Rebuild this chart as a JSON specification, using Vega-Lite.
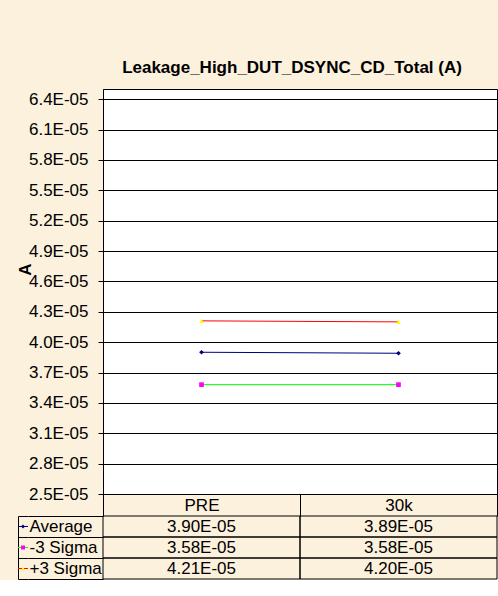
{
  "$schema": "https://vega.github.io/schema/vega-lite/v6.json",
  "background": "#FBF1DD",
  "padding": {"left": 15, "top": 58, "right": 0, "bottom": 0},
  "config": {
    "font": "Liberation Sans",
    "axis": {"labelFont": "Liberation Sans", "labelFontSize": 17, "labelColor": "black", "titleFont": "Liberation Sans"},
    "view": {"stroke": null}
  },
  "datasets": {
    "d": [
      {"stage": "PRE", "series": "Average", "value": 0.0000390},
      {"stage": "30k", "series": "Average", "value": 0.0000389},
      {"stage": "PRE", "series": "-3 Sigma", "value": 0.0000358},
      {"stage": "30k", "series": "-3 Sigma", "value": 0.0000358},
      {"stage": "PRE", "series": "+3 Sigma", "value": 0.0000421},
      {"stage": "30k", "series": "+3 Sigma", "value": 0.0000420}
    ]
  },
  "columns": 2,
  "bounds": "flush",
  "spacing": {"row": 22, "column": 0},
  "concat": [
    {
      "width": 85, "height": 405,
      "data": {"values": []},
      "mark": "point"
    },
    {
      "width": 394, "height": 405,
      "data": {"name": "d"},
      "title": {"text": "Leakage_High_DUT_DSYNC_CD_Total (A)", "fontSize": 17, "fontWeight": "bold", "color": "black", "offset": 12, "dx": -8, "font": "Liberation Sans"},
      "view": {"fill": "white", "stroke": "black"},
      "encoding": {
        "x": {
          "field": "stage", "type": "nominal", "sort": ["PRE", "30k"],
          "scale": {"type": "band", "paddingInner": 0, "paddingOuter": 0},
          "axis": {"title": null, "labelAngle": 0, "domain": false, "tickBand": "extent", "tickSize": 22, "tickColor": "black", "labelPadding": -11, "labelBaseline": "middle", "labelFontSize": 17, "labelFont": "Liberation Sans", "labelColor": "black"}
        },
        "y": {
          "field": "value", "type": "quantitative",
          "scale": {"domain": [0.000025, 0.000065], "nice": false, "zero": false},
          "axis": {
            "values": [0.000025, 0.000028, 0.000031, 0.000034, 0.000037, 0.000040, 0.000043, 0.000046, 0.000049, 0.000052, 0.000055, 0.000058, 0.000061, 0.000064],
            "labelExpr": "format(datum.value*100000, '.1f') + 'E-05'",
            "labelFontSize": 17, "labelFont": "Liberation Sans", "labelColor": "black",
            "title": "A", "titleFontSize": 17, "titleFontWeight": "bold", "titleColor": "black",
            "titleY": 180, "titlePadding": -6,
            "tickSize": 5, "tickColor": "black", "domainColor": "black",
            "grid": true, "gridColor": "black", "gridOpacity": 1, "labelPadding": 10
          }
        }
      },
      "layer": [
        {
          "mark": {"type": "line", "strokeWidth": 1},
          "encoding": {
            "color": {"field": "series", "type": "nominal", "scale": {"domain": ["Average", "-3 Sigma", "+3 Sigma"], "range": ["#000080", "#00FF00", "#FF0000"]}, "legend": null}
          }
        },
        {
          "mark": {"type": "point", "filled": true, "opacity": 1, "size": 22, "strokeWidth": 0},
          "encoding": {
            "fill": {"field": "series", "type": "nominal", "scale": {"domain": ["Average", "-3 Sigma", "+3 Sigma"], "range": ["#000080", "#FF00FF", "#FFFF00"]}, "legend": null},
            "shape": {"field": "series", "type": "nominal", "scale": {"domain": ["Average", "-3 Sigma", "+3 Sigma"], "range": ["diamond", "square", "triangle-up"]}, "legend": null}
          }
        }
      ]
    },
    {
      "spacing": 0,
      "bounds": "flush",
      "hconcat": [
        {
          "width": 10, "height": 63,
          "data": {"name": "d"},
          "transform": [{"filter": "datum.stage == 'PRE'"}],
          "encoding": {
            "y": {
              "field": "series", "type": "nominal", "sort": ["Average", "-3 Sigma", "+3 Sigma"],
              "scale": {"type": "band", "paddingInner": 0, "paddingOuter": 0},
              "axis": {"title": null, "labels": false, "ticks": false, "domain": true, "domainColor": "black", "grid": true, "gridColor": "black", "gridOpacity": 1, "tickBand": "extent"}
            }
          },
          "layer": [
            {
              "mark": {"type": "rule", "strokeWidth": 1},
              "encoding": {
                "color": {"field": "series", "type": "nominal", "scale": {"domain": ["Average", "-3 Sigma", "+3 Sigma"], "range": ["#000080", "#00FF00", "#FF0000"]}, "legend": null}
              }
            },
            {
              "mark": {"type": "point", "filled": true, "opacity": 1, "size": 16, "strokeWidth": 0},
              "encoding": {
                "fill": {"field": "series", "type": "nominal", "scale": {"domain": ["Average", "-3 Sigma", "+3 Sigma"], "range": ["#000080", "#FF00FF", "#FFFF00"]}, "legend": null},
                "shape": {"field": "series", "type": "nominal", "scale": {"domain": ["Average", "-3 Sigma", "+3 Sigma"], "range": ["diamond", "square", "triangle-up"]}, "legend": null}
              }
            }
          ]
        },
        {
          "width": 75, "height": 63,
          "data": {"name": "d"},
          "transform": [{"filter": "datum.stage == 'PRE'"}],
          "mark": {"type": "point", "opacity": 0},
          "encoding": {
            "y": {
              "field": "series", "type": "nominal", "sort": ["Average", "-3 Sigma", "+3 Sigma"],
              "scale": {"type": "band", "paddingInner": 0, "paddingOuter": 0},
              "axis": {"title": null, "ticks": false, "tickSize": 0, "domain": false, "grid": true, "gridColor": "black", "gridOpacity": 1, "tickBand": "extent", "labelAlign": "left", "labelPadding": -1, "labelFontSize": 17, "labelFont": "Liberation Sans", "labelColor": "black"}
            }
          }
        }
      ]
    },
    {
      "width": 394, "height": 63,
      "data": {"name": "d"},
      "transform": [{"calculate": "format(datum.value*100000, '.2f') + 'E-05'", "as": "label"}],
      "encoding": {
        "x": {"field": "stage", "type": "nominal", "sort": ["PRE", "30k"], "scale": {"type": "band", "paddingInner": 0, "paddingOuter": 0}, "axis": null},
        "y": {"field": "series", "type": "nominal", "sort": ["Average", "-3 Sigma", "+3 Sigma"], "scale": {"type": "band", "paddingInner": 0, "paddingOuter": 0}, "axis": null}
      },
      "layer": [
        {"mark": {"type": "rect", "fill": "transparent", "stroke": "black", "strokeWidth": 1}},
        {"mark": {"type": "text", "fontSize": 17, "color": "black", "font": "Liberation Sans"}, "encoding": {"text": {"field": "label"}}}
      ]
    }
  ]
}
